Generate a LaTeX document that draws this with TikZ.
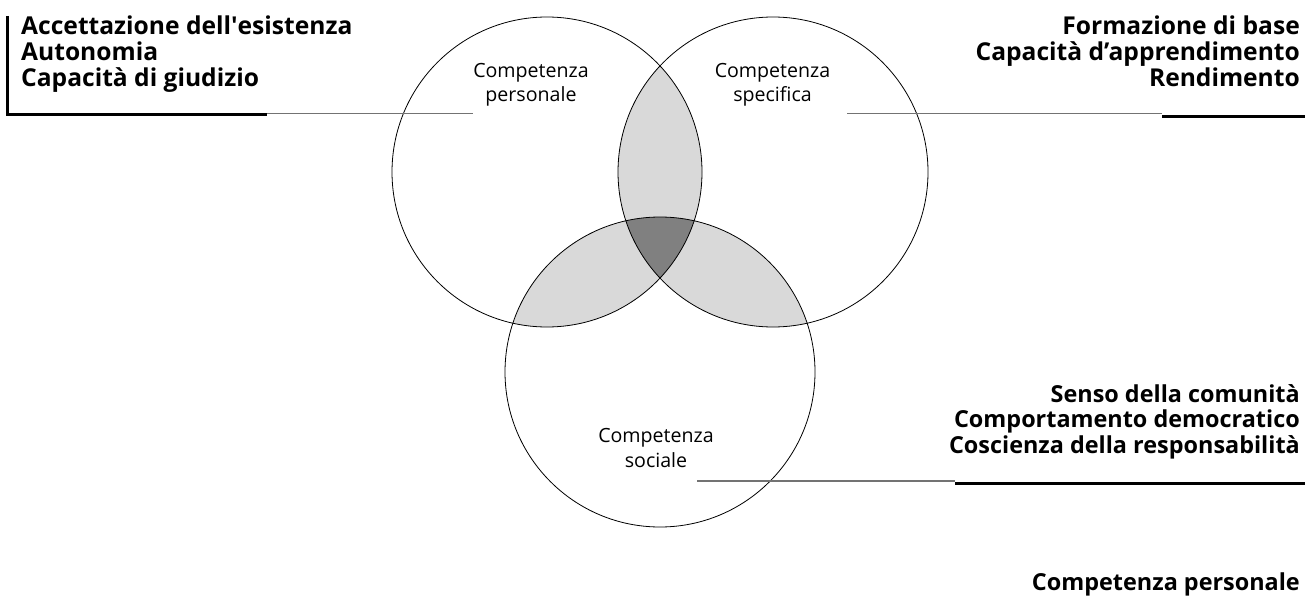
\documentclass[tikz,border=0pt]{standalone}
\usepackage{fontspec}
\setmainfont{Open Sans}

\begin{document}
\begin{tikzpicture}[x=1pt,y=-1pt,
    ring/.style={circle,draw,line width=0.8pt,minimum size=310pt,inner sep=0pt},
    inlabel/.style={align=center,anchor=base,inner sep=0pt,font=\fontsize{19.6}{24.8}\selectfont},
    biglist/.style={inner sep=0pt,font=\bfseries\fontsize{24.6}{26}\selectfont},
    smalllist/.style={inner sep=0pt,font=\bfseries\fontsize{23.4}{25.5}\selectfont},
    leader/.style={draw=black!55,line width=1.2pt},
    bar/.style={draw,line width=3pt}]
    \useasboundingbox (0,0) rectangle (1305,599);
    \coordinate (pc) at (547,172);
    \coordinate (sc) at (773,172);
    \coordinate (cc) at (660,372);
    \begin{scope}
      \clip (pc) circle[radius=155pt];
      \fill[black!15] (sc) circle[radius=155pt];
      \fill[black!15] (cc) circle[radius=155pt];
    \end{scope}
    \begin{scope}
      \clip (sc) circle[radius=155pt];
      \fill[black!15] (cc) circle[radius=155pt];
    \end{scope}
    \begin{scope}
      \clip (pc) circle[radius=155pt];
      \clip (sc) circle[radius=155pt];
      \fill[black!50] (cc) circle[radius=155pt];
    \end{scope}
    \node[ring] (pers) at (pc) {};
    \node[ring] (spec) at (sc) {};
    \node[ring] (soc) at (cc) {};
    \node[inlabel] (perslab) at (531,102) {Competenza\\personale};
    \node[inlabel] (speclab) at (772.5,102) {Competenza\\specifica};
    \node[inlabel] (soclab) at (656,467) {Competenza\\sociale};
    \node[biglist,anchor=base west,align=left] (perslist) at (21,87)
      {Accettazione dell\textquotesingle esistenza\\Autonomia\\Capacità di giudizio};
    \node[biglist,anchor=base east,align=right] (speclist) at (1300,87)
      {Formazione di base\\Capacità d’apprendimento\\Rendimento};
    \node[smalllist,anchor=base east,align=right] (soclist) at (1300,453)
      {Senso della comunità\\Comportamento democratico\\Coscienza della responsabilità};
    \node[smalllist,anchor=base east] (legend) at (1300,590) {Competenza personale};
    \coordinate (pbartop) at (7.5,16);
    \coordinate (pbarend) at (267,114.8);
    \coordinate (pleadend) at (473,113.8);
    \coordinate (sleadstart) at (847,113.3);
    \coordinate (sbarstart) at (1162,116.3);
    \coordinate (sbarend) at (1305,116.3);
    \coordinate (cleadstart) at (697,481);
    \coordinate (cbarstart) at (955,483.3);
    \coordinate (cbarend) at (1305,483.3);
    \begin{scope}
      \draw[bar] (pbartop) |- (pbarend);
      \draw[leader] (pbarend |- pleadend) -- (pleadend);
      \draw[leader] (sleadstart) -- (sleadstart -| sbarstart);
      \draw[bar] (sbarstart) -- (sbarend);
      \draw[leader] (cleadstart) -- (cleadstart -| cbarstart);
      \draw[bar] (cbarstart) -- (cbarend);
    \end{scope}
\end{tikzpicture}
\end{document}
